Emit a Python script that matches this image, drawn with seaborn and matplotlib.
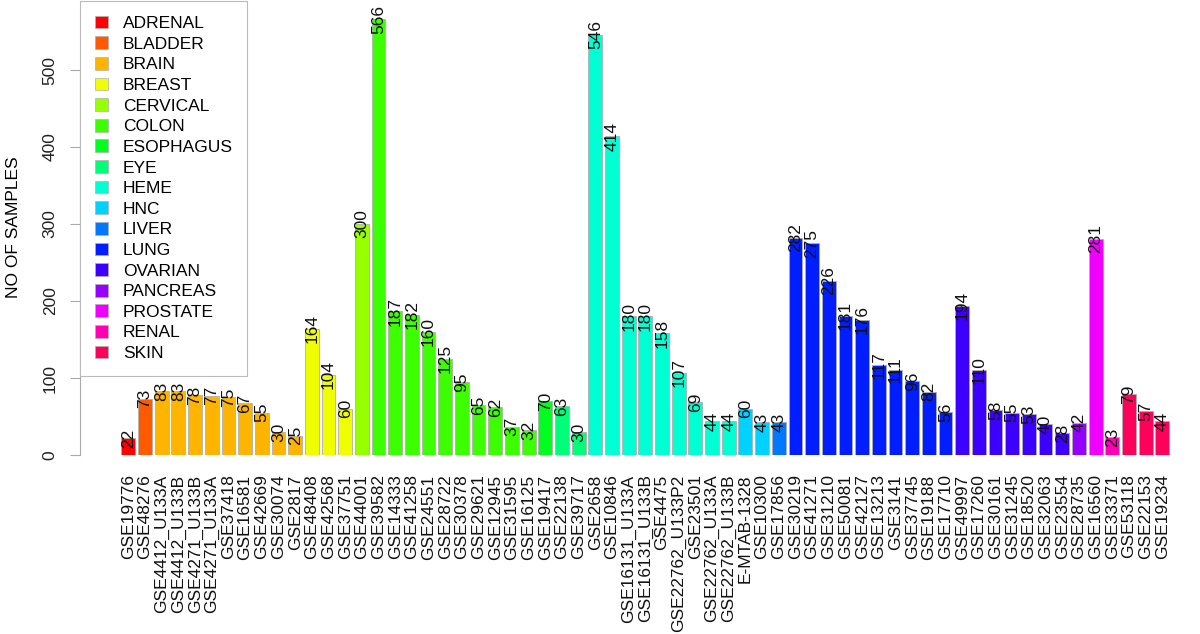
import numpy as np
import pandas as pd
import seaborn as sns
import matplotlib
matplotlib.use("Agg")
import matplotlib.pyplot as plt
from matplotlib.patches import Patch

# datasets, sample counts and cancer type
datasets = ["GSE19776", "GSE48276", "GSE4412_U133A", "GSE4412_U133B", "GSE4271_U133B",
            "GSE4271_U133A", "GSE37418", "GSE16581", "GSE42669", "GSE30074", "GSE2817",
            "GSE48408", "GSE42568", "GSE37751", "GSE44001", "GSE39582", "GSE14333",
            "GSE41258", "GSE24551", "GSE28722", "GSE30378", "GSE29621", "GSE12945",
            "GSE31595", "GSE16125", "GSE19417", "GSE22138", "GSE39717", "GSE2658",
            "GSE10846", "GSE16131_U133A", "GSE16131_U133B", "GSE4475", "GSE22762_U133P2",
            "GSE23501", "GSE22762_U133A", "GSE22762_U133B", "E-MTAB-1328", "GSE10300",
            "GSE17856", "GSE30219", "GSE41271", "GSE31210", "GSE50081", "GSE42127",
            "GSE13213", "GSE3141", "GSE37745", "GSE19188", "GSE17710", "GSE49997",
            "GSE17260", "GSE30161", "GSE31245", "GSE18520", "GSE32063", "GSE23554",
            "GSE28735", "GSE16560", "GSE33371", "GSE53118", "GSE22153", "GSE19234"]

samples = [22, 73, 83, 83, 78, 77, 75, 67, 55, 30, 25,
           164, 104, 60, 300, 566, 187, 182, 160, 125, 95, 65, 62,
           37, 32, 70, 63, 30, 546, 414, 180, 180, 158, 107,
           69, 44, 44, 60, 43, 43, 282, 275, 226, 181, 176,
           117, 111, 96, 82, 56, 194, 110, 58, 55, 53, 40, 28,
           42, 281, 23, 79, 57, 44]

cancer = (["ADRENAL"] + ["BLADDER"] + ["BRAIN"] * 9 + ["BREAST"] * 3 + ["CERVICAL"]
          + ["COLON"] * 10 + ["ESOPHAGUS"] + ["EYE"] * 2 + ["HEME"] * 9 + ["HNC"] * 2
          + ["LIVER"] + ["LUNG"] * 10 + ["OVARIAN"] * 7 + ["PANCREAS"] + ["PROSTATE"]
          + ["RENAL"] + ["SKIN"] * 3)

types = ["ADRENAL", "BLADDER", "BRAIN", "BREAST", "CERVICAL", "COLON", "ESOPHAGUS", "EYE",
         "HEME", "HNC", "LIVER", "LUNG", "OVARIAN", "PANCREAS", "PROSTATE", "RENAL", "SKIN"]

# R rainbow(17)
colors = ["#FF0000", "#FF5A00", "#FFB400", "#F0FF00", "#96FF00", "#3CFF00", "#00FF1E",
          "#00FF78", "#00FFD2", "#00D2FF", "#0078FF", "#001EFF", "#3C00FF", "#9600FF",
          "#F000FF", "#FF00B4", "#FF005A"]

df = pd.DataFrame({"dataset": datasets, "n": samples, "type": cancer})
pal = dict(zip(types, colors))

plt.rcParams["font.family"] = ["Liberation Sans", "DejaVu Sans"]

fig = plt.figure(figsize=(12, 6.34), dpi=100)
ax = fig.add_axes([80 / 1200, 179 / 634, 1120 / 1200, 455 / 634])

sns.barplot(data=df, x="dataset", y="n", hue="type", palette=pal, order=datasets,
            hue_order=types, dodge=False, width=0.83, legend=False, ax=ax,
            edgecolor="#b0b0b0", linewidth=0.6, saturation=1)

for i, v in enumerate(samples):
    ax.text(i, v, str(v), rotation=90, ha="center", va="center", fontsize=12.5, color="#111111")

ax.set_xlim(-2.9, 64.26)
ax.set_ylim(0, 591)
ax.set_yticks([0, 100, 200, 300, 400, 500])
ax.set_xlabel("")
ax.set_ylabel("NO OF SAMPLES", fontsize=12.5, labelpad=16)
for s in ["top", "right", "bottom"]:
    ax.spines[s].set_visible(False)
ax.spines["left"].set_bounds(0, 500)
ax.spines["left"].set_color("#aaaaaa")
ax.tick_params(axis="x", length=0, pad=14, labelsize=12.5, labelrotation=90, labelcolor="#111111")
ax.tick_params(axis="y", length=7, color="#aaaaaa", pad=9, labelsize=12.5, labelcolor="#222222")
for t in ax.get_yticklabels():
    t.set_rotation(90)
    t.set_va("center")

handles = [Patch(facecolor=c, edgecolor="#b0b0b0", linewidth=0.5) for c in colors]
leg = fig.legend(handles, types, loc="upper left", bbox_to_anchor=(80 / 1200, 1 - 1 / 634),
                 fontsize=12.5, frameon=True, fancybox=False, edgecolor="#bbbbbb",
                 framealpha=1, handlelength=0.75, handleheight=0.75, handletextpad=0.86,
                 labelspacing=0.3, borderpad=0.85, borderaxespad=0)
leg.get_frame().set_linewidth(0.8)

fig.savefig("out.png", dpi=100)
